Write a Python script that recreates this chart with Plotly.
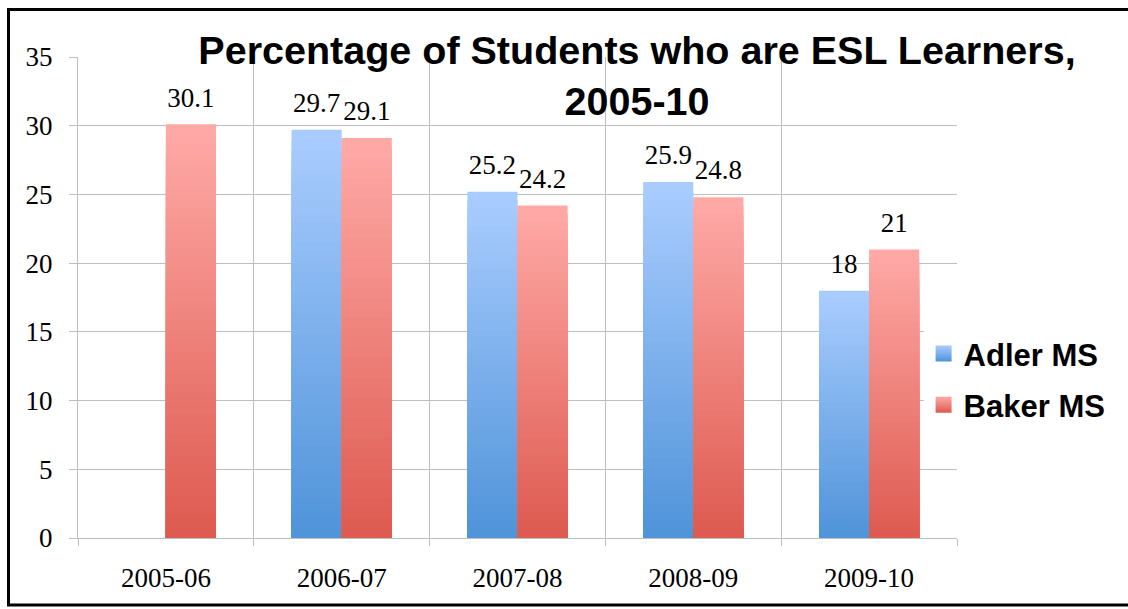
import plotly.graph_objects as go

categories = ["2005-06", "2006-07", "2007-08", "2008-09", "2009-10"]
adler = [None, 29.7, 25.2, 25.9, 18]
baker = [30.1, 29.1, 24.2, 24.8, 21]
series_names = ["Adler MS", "Baker MS"]
title_text = "Percentage of Students who are ESL Learners,<br>2005-10"
y_ticks = [0, 5, 10, 15, 20, 25, 30, 35]

# gradient colours (bottom, top) per series
grad = {
    "Adler MS": ((0x4F, 0x93, 0xD9), (0xAA, 0xCD, 0xFF)),
    "Baker MS": ((0xDD, 0x5A, 0x4F), (0xFF, 0xAA, 0xA7)),
}
NSEG = 40

def mix(c0, c1, t):
    return "rgb(%d,%d,%d)" % tuple(round(a + (b - a) * t) for a, b in zip(c0, c1))

label_font = dict(family="Liberation Serif, DejaVu Serif, serif", size=27, color="black")

fig = go.Figure()
for name, vals in zip(series_names, [adler, baker]):
    c0, c1 = grad[name]
    # vertical gradient: nested bars from 0, tallest (lightest) first
    for k in range(NSEG - 1, -1, -1):
        seg_y = [(v * (k + 1) / NSEG) if v is not None else None for v in vals]
        fig.add_trace(go.Bar(
            x=categories, y=seg_y, offsetgroup=name, name=name,
            legendgroup=name, showlegend=False,
            marker=dict(color=mix(c0, c1, (k + 0.5) / NSEG), line=dict(width=0)),
            hoverinfo="skip",
        ))

# value labels (grouped scatter aligned with the bars)
for name, vals in zip(series_names, [adler, baker]):
    fig.add_trace(go.Scatter(
        x=categories, y=vals, mode="markers+text", offsetgroup=name,
        legendgroup=name, name=name, showlegend=False,
        text=[("%g" % v) if v is not None else "" for v in vals],
        textposition="top center", textfont=label_font, cliponaxis=False,
        marker=dict(symbol="square", size=16, color="rgba(0,0,0,0)", line=dict(width=0)),
        hoverinfo="skip",
    ))

# legend entries with gradient swatches
for name in series_names:
    c0, c1 = grad[name]
    fig.add_trace(go.Scatter(
        x=[None], y=[None], mode="markers", offsetgroup=name,
        legendgroup=name, name=name, showlegend=True,
        marker=dict(symbol="square", size=16, color=mix(c0, c1, 1.0),
                    gradient=dict(type="vertical", color=mix(c0, c1, 0.0)),
                    line=dict(width=0)),
        hoverinfo="skip",
    ))

grid_col = "#BEBEBE"
fig.update_layout(
    width=1128, height=609,
    margin=dict(l=78, r=171, t=57, b=71),
    paper_bgcolor="white", plot_bgcolor="white",
    barmode="group", bargap=0.43, bargroupgap=0,
    scattermode="group", scattergap=0.43,
    showlegend=True,
    title=dict(
        text=title_text, x=637 / 1128, xanchor="center", xref="container",
        y=1 - 64 / 609, yanchor="middle", yref="container",
        font=dict(family="Liberation Sans, Arial, sans-serif",
                  size=39.5, color="black", weight="bold"),
    ),
    legend=dict(
        x=0.962, xanchor="left", y=0.33, yanchor="middle",
        bgcolor="white", borderwidth=0, tracegroupgap=8,
        font=dict(family="Liberation Sans, Arial, sans-serif", size=31, color="black", weight="bold"),
    ),
    xaxis=dict(
        type="category", tickson="boundaries", showgrid=True, gridcolor=grid_col, gridwidth=1,
        ticks="outside", ticklen=7, tickcolor=grid_col, showline=True, linecolor=grid_col,
        tickfont=label_font, ticklabelstandoff=16, range=[-0.5, 4.5],
    ),
    yaxis=dict(
        range=[0, 35], tickvals=y_ticks, showgrid=True, gridcolor=grid_col, gridwidth=1,
        ticks="outside", ticklen=8, tickcolor=grid_col, showline=True, linecolor=grid_col,
        zeroline=False, tickfont=label_font, ticklabelstandoff=11,
    ),
)

# outer black frame
fig.add_shape(type="rect", xref="paper", yref="paper",
              x0=(8.5 - 78) / 879, x1=(1140 - 78) / 879,
              y0=(538 - 605) / 481, y1=(538 - 9.5) / 481,
              line=dict(color="black", width=3), fillcolor="rgba(0,0,0,0)", layer="above")

fig.write_html("out.html")
